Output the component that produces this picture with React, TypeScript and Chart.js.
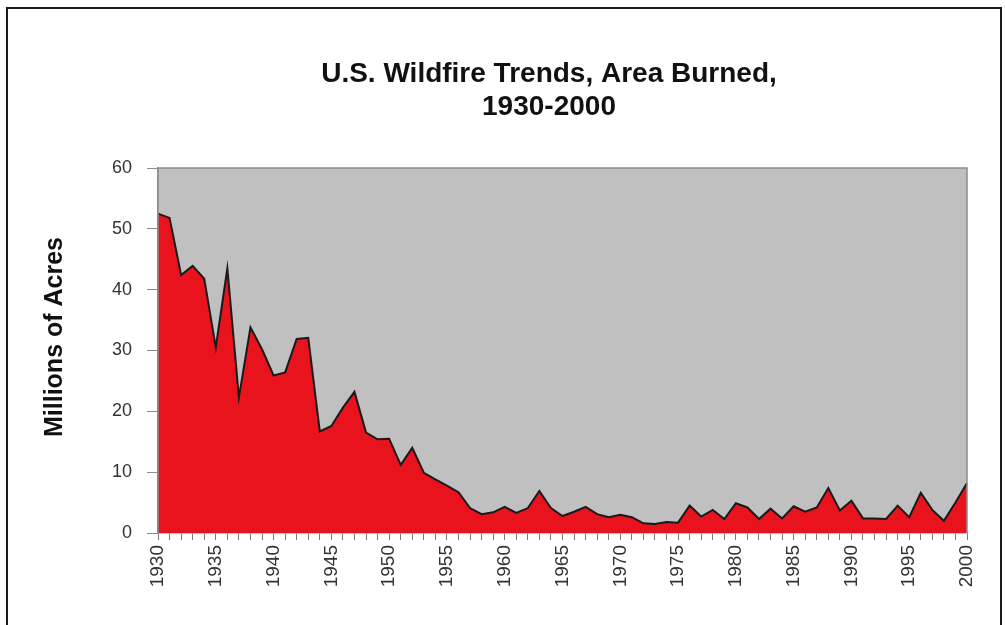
import React, { useEffect, useRef } from 'react';
import { Chart, registerables } from 'chart.js';

Chart.register(...registerables);

const YEARS = [
  '1930', '1931', '1932', '1933', '1934', '1935', '1936', '1937', '1938', '1939',
  '1940', '1941', '1942', '1943', '1944', '1945', '1946', '1947', '1948', '1949',
  '1950', '1951', '1952', '1953', '1954', '1955', '1956', '1957', '1958', '1959',
  '1960', '1961', '1962', '1963', '1964', '1965', '1966', '1967', '1968', '1969',
  '1970', '1971', '1972', '1973', '1974', '1975', '1976', '1977', '1978', '1979',
  '1980', '1981', '1982', '1983', '1984', '1985', '1986', '1987', '1988', '1989',
  '1990', '1991', '1992', '1993', '1994', '1995', '1996', '1997', '1998', '1999',
  '2000',
];

// Millions of acres burned
const AREA_BURNED = [
  52.5, 51.8, 42.4, 43.9, 41.8, 30.5, 43.5, 22.3, 33.8, 30.2,
  25.9, 26.4, 31.9, 32.1, 16.7, 17.6, 20.6, 23.2, 16.5, 15.4,
  15.5, 11.2, 14.0, 9.9, 8.8, 7.8, 6.7, 4.1, 3.1, 3.4,
  4.3, 3.3, 4.1, 6.9, 4.1, 2.8, 3.5, 4.3, 3.1, 2.6,
  3.0, 2.6, 1.6, 1.5, 1.8, 1.7, 4.5, 2.7, 3.8, 2.3,
  4.9, 4.2, 2.3, 4.0, 2.4, 4.4, 3.5, 4.2, 7.4, 3.7,
  5.3, 2.4, 2.4, 2.3, 4.5, 2.6, 6.6, 3.8, 2.0, 5.0,
  8.2,
];

const Y_MIN = 0;
const Y_MAX = 60;
const Y_STEP = 10;
const X_LABEL_EVERY = 5;

const TITLE_LINES = ['U.S. Wildfire Trends, Area Burned,', '1930-2000'];
const Y_AXIS_TITLE = 'Millions of Acres';

const FONT = "'Liberation Sans', Arial, Helvetica, sans-serif";

const chartDecor = {
  id: 'chartDecor',
  beforeDatasetsDraw(chart: any) {
    const { ctx, chartArea } = chart;
    const { left, top, right, bottom } = chartArea;
    ctx.save();
    ctx.fillStyle = '#C0C0C0';
    ctx.fillRect(left, top, right - left, bottom - top);
    ctx.restore();
  },
  afterDatasetsDraw(chart: any) {
    const { ctx, chartArea } = chart;
    const { left, top, right, bottom } = chartArea;
    ctx.save();
    ctx.strokeStyle = '#8C8C8C';
    ctx.lineWidth = 1.5;
    ctx.beginPath();
    ctx.moveTo(left, bottom);
    ctx.lineTo(left, top);
    ctx.lineTo(right, top);
    ctx.lineTo(right, bottom);
    ctx.stroke();
    ctx.restore();
  },
  afterDraw(chart: any) {
    const { ctx } = chart;
    ctx.save();
    ctx.fillStyle = '#111111';
    ctx.textAlign = 'center';
    ctx.textBaseline = 'middle';
    ctx.font = `bold 28px ${FONT}`;
    ctx.fillText(TITLE_LINES[0], 549, 74);
    ctx.fillText(TITLE_LINES[1], 549, 107);
    ctx.translate(55, 337);
    ctx.rotate(-Math.PI / 2);
    ctx.font = `bold 25px ${FONT}`;
    ctx.fillText(Y_AXIS_TITLE, 0, 0);
    ctx.restore();
  },
};

export default function App() {
  const canvasRef = useRef<HTMLCanvasElement | null>(null);

  useEffect(() => {
    document.body.style.margin = '0';
    document.body.style.overflow = 'hidden';
    const canvas = canvasRef.current;
    if (!canvas) return;
    const chart = new Chart(canvas, {
      type: 'line',
      data: {
        labels: YEARS,
        datasets: [
          {
            label: 'Area Burned',
            data: AREA_BURNED,
            fill: 'origin',
            backgroundColor: '#E8131C',
            borderColor: '#1A1A1A',
            borderWidth: 2,
            tension: 0,
            pointRadius: 0,
            pointHoverRadius: 0,
          },
        ],
      },
      options: {
        animation: false,
        responsive: true,
        maintainAspectRatio: false,
        events: [],
        layout: { padding: { left: 0, right: 38, top: 168, bottom: 0 } },
        plugins: {
          legend: { display: false },
          title: { display: false },
          tooltip: { enabled: false },
        },
        scales: {
          x: {
            type: 'category',
            offset: false,
            grid: {
              display: true,
              drawOnChartArea: false,
              drawTicks: true,
              tickLength: 7,
              tickColor: '#7A7A7A',
              tickWidth: 1,
            },
            border: { display: true, color: '#8C8C8C', width: 1.5 },
            ticks: {
              autoSkip: false,
              maxRotation: 90,
              minRotation: 90,
              padding: 5,
              color: '#333333',
              font: { family: FONT, size: 19 },
              callback: (_v: any, i: number) =>
                i % X_LABEL_EVERY === 0 ? YEARS[i] : '',
            },
            afterFit: (scale: any) => {
              scale.height = 625 - 533;
            },
          },
          y: {
            min: Y_MIN,
            max: Y_MAX,
            grid: {
              display: true,
              drawOnChartArea: false,
              drawTicks: true,
              tickLength: 11,
              tickColor: '#8C8C8C',
            },
            border: { display: true, color: '#8C8C8C', width: 1.5 },
            ticks: {
              stepSize: Y_STEP,
              padding: 15,
              color: '#333333',
              font: { family: FONT, size: 18 },
            },
            afterFit: (scale: any) => {
              scale.width = 158;
            },
          },
        },
      },
      plugins: [chartDecor],
    });
    return () => chart.destroy();
  }, []);

  return (
    <div style={{ position: 'relative', width: 1005, height: 625, background: '#ffffff', overflow: 'hidden' }}>
      <canvas ref={canvasRef} width={1005} height={625} />
      <div
        style={{
          position: 'absolute',
          left: 6,
          top: 7,
          width: 996,
          height: 630,
          boxSizing: 'border-box',
          borderTop: '2px solid #1A1A1A',
          borderLeft: '2px solid #1A1A1A',
          borderRight: '2px solid #1A1A1A',
          pointerEvents: 'none',
        }}
      />
    </div>
  );
}
